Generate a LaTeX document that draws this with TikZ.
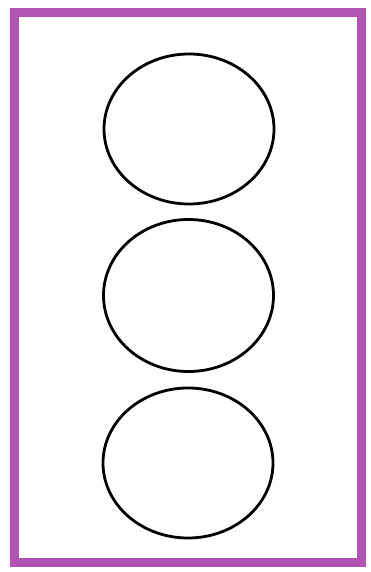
\documentclass[tikz,border=0pt]{standalone}
\definecolor{framepurple}{RGB}{178,82,178}
\tikzset{
  frameline/.style={draw=framepurple, line width=9pt},
  ring/.style={draw=black, line width=2.8pt}
}
\begin{document}
\begin{tikzpicture}[x=1pt,y=-1pt]
\useasboundingbox (0,0) rectangle (370,572);
\fill[white] (0,0) rectangle (370,572);
\draw[frameline] (14,13) rectangle (361,562);
\draw[ring] (189,129) ellipse [x radius=85, y radius=75];
\draw[ring] (188.5,295.5) ellipse [x radius=85, y radius=76];
\draw[ring] (188,463) ellipse [x radius=85, y radius=75];
\end{tikzpicture}
\end{document}
